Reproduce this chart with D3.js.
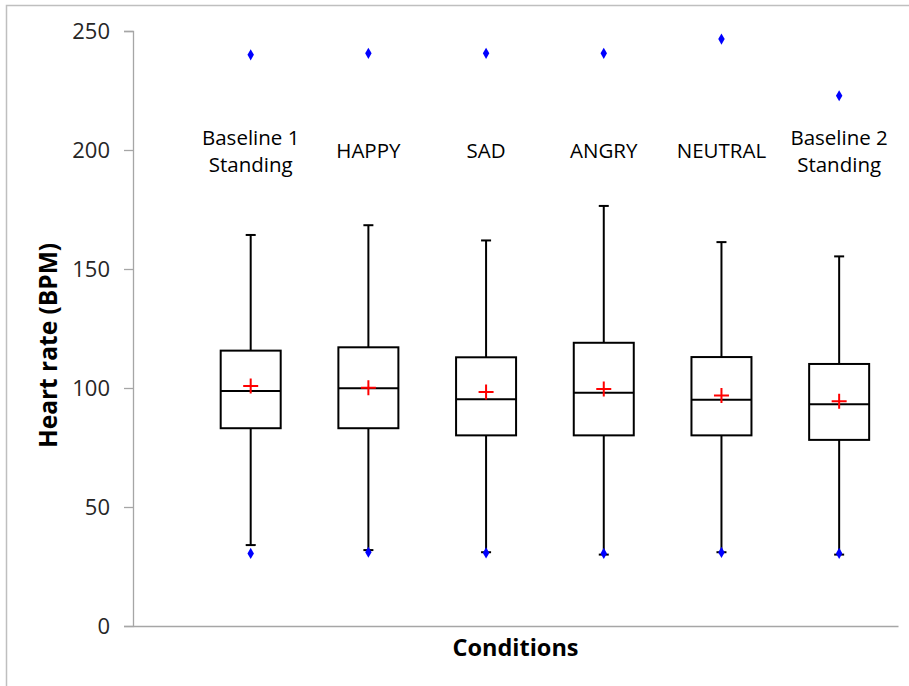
<!DOCTYPE html>
<html>
<head>
<meta charset="utf-8">
<script src="https://cdn.jsdelivr.net/npm/d3@7"></script>
<style>
  html, body { margin: 0; padding: 0; background: #fff; }
  svg { display: block; }
</style>
</head>
<body>
<svg id="chart" width="909" height="686"></svg>
<script>
// ---- data ----
const categories = [["Baseline 1", "Standing"], ["HAPPY"], ["SAD"], ["ANGRY"], ["NEUTRAL"], ["Baseline 2", "Standing"]];
const whiskerHigh = [164.3, 168.4, 162.0, 176.5, 161.3, 155.3];
const q3Values    = [115.7, 117.1, 112.9, 119.0, 113.0, 110.1];
const medians     = [98.7, 99.9, 95.3, 98.0, 95.1, 93.2];
const q1Values    = [83.1, 83.1, 80.1, 80.1, 80.1, 78.2];
const whiskerLow  = [34.0, 31.9, 31.0, 30.0, 31.0, 30.0];
const means       = [100.8, 100.1, 98.3, 99.6, 96.8, 94.4];
const maxPoints   = [240.0, 240.6, 240.6, 240.6, 246.6, 222.8];
const minPoints   = [30.5, 31.0, 30.7, 30.5, 30.9, 30.5];
const yTicks      = [0, 50, 100, 150, 200, 250];
const yTitle = "Heart rate (BPM)";
const xTitle = "Conditions";
const labelLevel = 197; // value level where category labels sit

// ---- layout ----
const svg = d3.select("#chart");
const W = 909, H = 686;
const plot = { left: 133, right: 898, top: 31, bottom: 626 };
const font = "'Open Sans', sans-serif";

const y = d3.scaleLinear().domain([0, 250]).range([plot.bottom, plot.top]);
const x = d3.scaleLinear().domain([0, categories.length + 0.5]).range([plot.left, plot.right]);
const cx = i => x(i + 1);

// outer border
svg.append("rect").attr("x", 6.5).attr("y", 5.5).attr("width", W + 10).attr("height", H + 10)
  .attr("fill", "none").attr("stroke", "#bfbfbf").attr("stroke-width", 1.5);

// y axis
const yAxis = d3.axisLeft(y).tickValues(yTicks).tickSize(9).tickPadding(14);
const gy = svg.append("g").attr("transform", `translate(${plot.left},0)`).call(yAxis);
gy.select(".domain").attr("stroke", "#a6a6a6").attr("stroke-width", 1.3);
gy.selectAll(".tick line").attr("stroke", "#a6a6a6").attr("stroke-width", 1.3);
gy.selectAll(".tick text").attr("font-family", font).attr("font-size", 22).attr("fill", "#262626");

// x axis line
const xAxis = d3.axisBottom(x).tickValues([]).tickSizeOuter(0);
const gx = svg.append("g").attr("transform", `translate(0,${plot.bottom})`).call(xAxis);
gx.select(".domain").attr("stroke", "#a6a6a6").attr("stroke-width", 1.3);

// boxes
const boxW = 60, capW = 10;
const g = svg.append("g");
categories.forEach((c, i) => {
  const xc = cx(i);
  const line = (x1, y1, x2, y2) => g.append("line").attr("x1", x1).attr("y1", y1).attr("x2", x2).attr("y2", y2)
    .attr("stroke", "#000").attr("stroke-width", 2);
  // whiskers
  line(xc, y(whiskerHigh[i]), xc, y(q3Values[i]));
  line(xc, y(q1Values[i]), xc, y(whiskerLow[i]));
  line(xc - capW / 2, y(whiskerHigh[i]), xc + capW / 2, y(whiskerHigh[i]));
  line(xc - capW / 2, y(whiskerLow[i]), xc + capW / 2, y(whiskerLow[i]));
  // box
  g.append("rect").attr("x", xc - boxW / 2).attr("y", y(q3Values[i]))
    .attr("width", boxW).attr("height", y(q1Values[i]) - y(q3Values[i]))
    .attr("fill", "#fff").attr("stroke", "#000").attr("stroke-width", 2);
  line(xc - boxW / 2, y(medians[i]), xc + boxW / 2, y(medians[i]));
  // mean marker (red plus)
  const my = y(means[i]);
  g.append("path").attr("d", `M${xc - 7.5},${my}H${xc + 7.5}M${xc},${my - 7.5}V${my + 7.5}`)
    .attr("stroke", "#ff0000").attr("stroke-width", 2).attr("fill", "none");
  // min / max points (blue diamonds)
  [maxPoints[i], minPoints[i]].forEach(v => {
    g.append("path").attr("d", d3.symbol().type(d3.symbolDiamond).size(36)())
      .attr("transform", `translate(${xc},${y(v)})`).attr("fill", "#0000ff");
  });
  // category labels
  const lines = c;
  const lh = 27;
  const baseY = y(labelLevel) + 1 - (lines.length - 1) * lh / 2;
  const t = svg.append("text").attr("text-anchor", "middle").attr("font-family", font)
    .attr("font-size", 20.5).attr("fill", "#000");
  lines.forEach((s, k) => {
    t.append("tspan").attr("x", xc).attr("y", baseY + k * lh).text(s);
  });
});

// axis titles
svg.append("text").attr("transform", `translate(57,${(plot.top + plot.bottom) / 2 + 17}) rotate(-90)`)
  .attr("text-anchor", "middle").attr("font-family", font).attr("font-weight", "bold")
  .attr("font-size", 24.5).attr("fill", "#000").text(yTitle);
svg.append("text").attr("x", (plot.left + plot.right) / 2).attr("y", 656)
  .attr("text-anchor", "middle").attr("font-family", font).attr("font-weight", "bold")
  .attr("font-size", 23.5).attr("fill", "#000").text(xTitle);
</script>
</body>
</html>
